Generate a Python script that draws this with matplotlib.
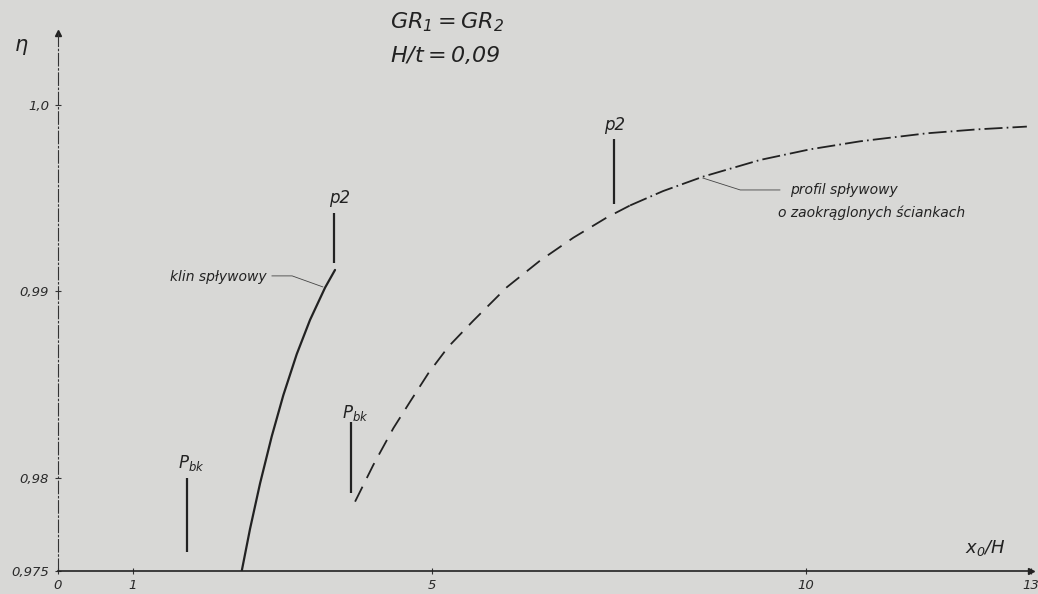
import matplotlib
matplotlib.use("Agg")
import matplotlib.pyplot as plt

# --- dane ---
x_ticks = [0, 1, 5, 10, 13]
y_ticks = [0.975, 0.98, 0.99, 1.0]
y_tick_labels = ["0,975", "0,98", "0,99", "1,0"]

# klin spływowy (linia ciągła)
klin_x = [2.456, 2.567, 2.701, 2.857, 3.012, 3.191, 3.369, 3.570, 3.703]
klin_y = [0.975, 0.97726, 0.9797, 0.98222, 0.98443, 0.98663, 0.98847, 0.9902, 0.99115]

# profil spływowy o zaokrąglonych ściankach (kreskowa + kreska-kropka)
prof_x = [3.971, 4.215, 4.483, 4.706, 4.951, 5.218, 5.552, 5.999, 6.444, 6.889, 7.335, 7.647]
prof_y = [0.97872, 0.98069, 0.98266, 0.98408, 0.98561, 0.98703, 0.98843, 0.99022,
          0.99165, 0.99288, 0.99396, 0.99461]
prof2_x = [7.647, 8.088, 8.627, 9.385, 10.053, 10.722, 11.614, 12.283, 12.951]
prof2_y = [0.99461, 0.99538, 0.99616, 0.99705, 0.99762, 0.99805, 0.99848, 0.99869, 0.99884]

# znaczniki Pbk / p2
mark_x = [1.72, 3.69, 3.91, 7.43]
mark_lo = [0.9760, 0.9915, 0.9792, 0.9947]
mark_hi = [0.9800, 0.9942, 0.9830, 0.9982]
mark_lab = [r"$P_{bk}$", "p2", r"$P_{bk}$", "p2"]
mark_lab_x = [1.60, 3.62, 3.80, 7.30]
mark_lab_y = [0.9808, 0.9950, 0.9835, 0.9989]

paper = "#d8d8d6"
ink = "#222222"
plt.rcParams["mathtext.fontset"] = "dejavusans"
plt.rcParams["mathtext.default"] = "it"
plt.rcParams["lines.scale_dashes"] = False
plt.rcParams["font.family"] = ["DejaVu Sans"]
plt.rcParams["font.style"] = "italic"

fig = plt.figure(figsize=(10.38, 5.94), dpi=100)
fig.patch.set_facecolor(paper)
ax = fig.add_axes([58 / 1038, 23 / 594, 980 / 1038, 538 / 594])
ax.set_facecolor(paper)
ax.set_xlim(0, 13.1)
ax.set_ylim(0.975, 1.00386)

for s in ["top", "right"]:
    ax.spines[s].set_visible(False)
ax.spines["bottom"].set_linewidth(1.2)
ax.spines["bottom"].set_color(ink)
ax.spines["bottom"].set_bounds(0, x_ticks[-1])
ax.spines["left"].set_linewidth(0.8)
ax.spines["left"].set_color("#333333")
ax.spines["left"].set_linestyle((0, (9, 2, 1, 2)))

ax.set_xticks(x_ticks)
ax.set_xticklabels([str(t) for t in x_ticks])
ax.set_yticks(y_ticks)
ax.set_yticklabels(y_tick_labels)
ax.tick_params(axis="both", direction="inout", length=5, width=0.8, colors="#333333",
               labelsize=9.5, labelcolor="#2a2a2a")
ax.tick_params(axis="x", pad=3)
ax.tick_params(axis="y", pad=4)
for lab in ax.get_xticklabels() + ax.get_yticklabels():
    lab.set_style("italic")

# strzałki na końcach osi
ax.plot(0, 1, marker="^", ms=5, color=ink, transform=ax.transAxes, clip_on=False)
ax.plot(x_ticks[-1], 0.975, marker=">", ms=5, color=ink, clip_on=False)

# krzywe
ax.plot(klin_x, klin_y, color=ink, lw=1.6, solid_capstyle="round", solid_joinstyle="round")
l1, = ax.plot(prof_x, prof_y, color=ink, lw=1.3)
l1.set_dashes([12, 7])
l2, = ax.plot(prof2_x, prof2_y, color=ink, lw=1.3)
l2.set_dashes([13, 3, 1.2, 3])

# znaczniki
ax.vlines(mark_x, mark_lo, mark_hi, color=ink, lw=1.6)
for x, y, t in zip(mark_lab_x, mark_lab_y, mark_lab):
    ax.text(x, y, t, fontsize=12, color=ink, ha="left", va="center")

# opisy z linią odniesienia
ax.text(2.79, 0.99077, "klin spływowy", fontsize=10, color=ink, ha="right", va="center")
ax.plot([2.86, 3.13, 3.54], [0.99083, 0.99083, 0.99024], color="#444444", lw=0.6)

ax.text(9.79, 0.99544, "profil spływowy", fontsize=10, color=ink, ha="left", va="center")
ax.text(9.63, 0.9942, "o zaokrąglonych ściankach", fontsize=10, color=ink, ha="left", va="center")
ax.plot([8.62, 9.12, 9.65], [0.99608, 0.99544, 0.99544], color="#444444", lw=0.6)

# opisy osi i nagłówek
fig.text(15 / 1038, 1 - 45 / 594, "η", fontsize=15, color=ink, va="center")
ax.text(12.13, 0.97625, r"$x_0/H$", fontsize=13, color=ink, ha="left", va="center")
fig.text(390 / 1038, 1 - 22 / 594, r"$GR_1 = GR_2$", fontsize=16, color=ink, va="center")
fig.text(390 / 1038, 1 - 55 / 594, r"$H/t = 0{,}09$", fontsize=16, color=ink, va="center")

fig.savefig("out.png", dpi=100, facecolor=paper)
